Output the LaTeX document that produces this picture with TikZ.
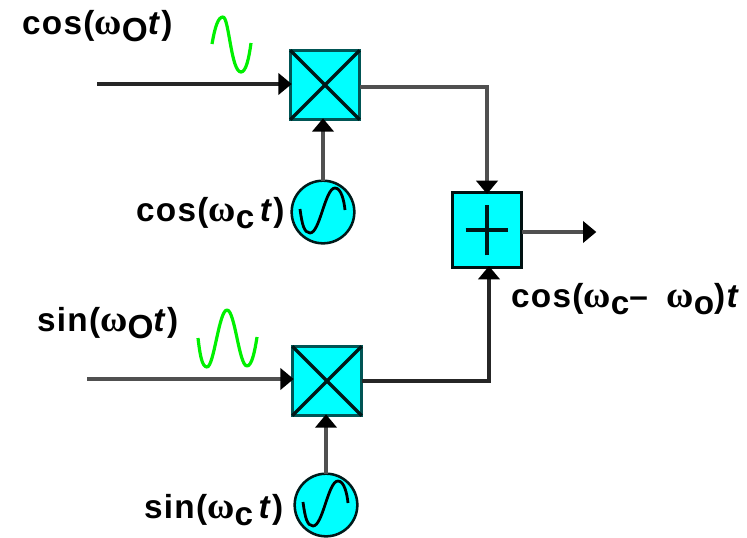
\documentclass[tikz,border=0pt]{standalone}
\usepackage{fontspec}
\setmainfont[LetterSpace=4]{Liberation Sans}
\newfontfamily\omfont{Liberation Serif}
\usetikzlibrary{arrows.meta}
\definecolor{tealedge}{RGB}{0,85,85}
\definecolor{boxcyan}{RGB}{0,255,255}
\definecolor{wavegreen}{RGB}{0,240,0}
\definecolor{wiregray}{RGB}{80,80,80}
\newcommand{\omg}{{\omfont\fontsize{28}{28}\selectfont\symbol{"03C9}}}
\newcommand{\subm}[1]{\raisebox{-5pt}{#1}}
\tikzset{
  every node/.style={inner sep=0pt,outer sep=0pt},
  blockbox/.style={draw=tealedge,line width=2.6pt,fill=boxcyan,minimum width=52pt,minimum height=52pt},
  sumbox/.style={draw=black!80!tealedge,line width=2.4pt,fill=boxcyan,minimum width=52pt,minimum height=56pt},
  oscnode/.style={circle,draw=black!70!tealedge,line width=1.9pt,fill=boxcyan,minimum size=47pt},
  wire/.style={line width=2.3pt,color=wiregray,-{Triangle[length=10pt,width=16pt,color=black]},shorten >=-1pt},
  inner mark/.style={line width=2.6pt,color=black!70!tealedge},
  sinewave/.style={line width=2.4pt,color=wavegreen,line join=round},
  oscwave/.style={line width=2.1pt,color=black,line join=round},
  lbl/.style={font=\bfseries\fontsize{25}{25}\selectfont,anchor=west,text=black}
}
\begin{document}
\begin{tikzpicture}[x=0.75pt,y=-0.75pt]
\useasboundingbox (0,0) rectangle (747,537);
% blocks
\node[blockbox] (m1) at (325,85) {};
\node[blockbox] (m2) at (327,381) {};
\node[sumbox] (add) at (487,230) {};
\node[oscnode] (o1) at (323,212) {};
\node[oscnode] (o2) at (326,505) {};
% marks inside blocks
\draw[inner mark] (m1.north west) -- (m1.south east);
\draw[inner mark] (m1.north east) -- (m1.south west);
\draw[inner mark] (m2.north west) -- (m2.south east);
\draw[inner mark] (m2.north east) -- (m2.south west);
\draw[inner mark] ([yshift=-19pt]add.center) -- ([yshift=19pt]add.center);
\draw[inner mark] ([xshift=-16pt]add.center) -- ([xshift=16pt]add.center);
% free ends
\coordinate (in1) at (97,84);
\coordinate (in2) at (87,379);
\coordinate (out) at (595,232);
\coordinate (c1) at (487,87);
\coordinate (c2) at (489,381);
% connectors
\draw[wire,color=black!85] (in1) -- (m1.west |- in1);
\draw[wire] (in2) -- (m2.west |- in2);
\draw[wire] (m1.east |- c1) -- (c1) -- (add.north);
\draw[wire,color=black!85] (m2.east |- c2) -- (c2) -- (c2 |- add.south);
\draw[wire] (add.east |- out) -- (out);
\draw[wire] (o1.north) -- (o1.north |- m1.south);
\draw[wire] (o2.north) -- (o2.north |- m2.south);
% green waves
\draw[sinewave] (212,44) .. controls (215,27) and (218,17) .. (223,17) .. controls (229,17) and (231,72) .. (241,72) .. controls (246,72) and (249,58) .. (251,43);
\draw[sinewave] (198,338) .. controls (200,355) and (202,367) .. (207,367) .. controls (214,367) and (219,310) .. (227,310) .. controls (235,310) and (239,366) .. (247,366) .. controls (252,366) and (255,350) .. (257,337);
% oscillator waves
\begin{scope}[shift={(o1.center)}]
\draw[oscwave] (-23,-3) .. controls (-21,12) and (-19,21) .. (-13,21) .. controls (-3,21) and (2,-24) .. (12,-24) .. controls (18,-24) and (21,-12) .. (22,-2);
\end{scope}
\begin{scope}[shift={(o2.center)}]
\draw[oscwave] (-23,-3) .. controls (-21,12) and (-19,21) .. (-13,21) .. controls (-3,21) and (2,-24) .. (12,-24) .. controls (18,-24) and (21,-12) .. (22,-2);
\end{scope}
% labels
\node[lbl] (t1) at (22,26) {cos(\omg\subm{O}\textit{t})};
\node[lbl] (t2) at (136,213) {cos(\omg\subm{c}\,\textit{t})};
\node[lbl] (t3) at (37,323) {sin(\omg\subm{O}\textit{t})};
\node[lbl] (t4) at (144,510) {sin(\omg\subm{c}\,\textit{t})};
\node[lbl] (t5) at (511,299) {cos(\omg\subm{c}–\hspace{6pt} \omg\subm{o})\hspace{1pt}\textit{t}};
\end{tikzpicture}
\end{document}
